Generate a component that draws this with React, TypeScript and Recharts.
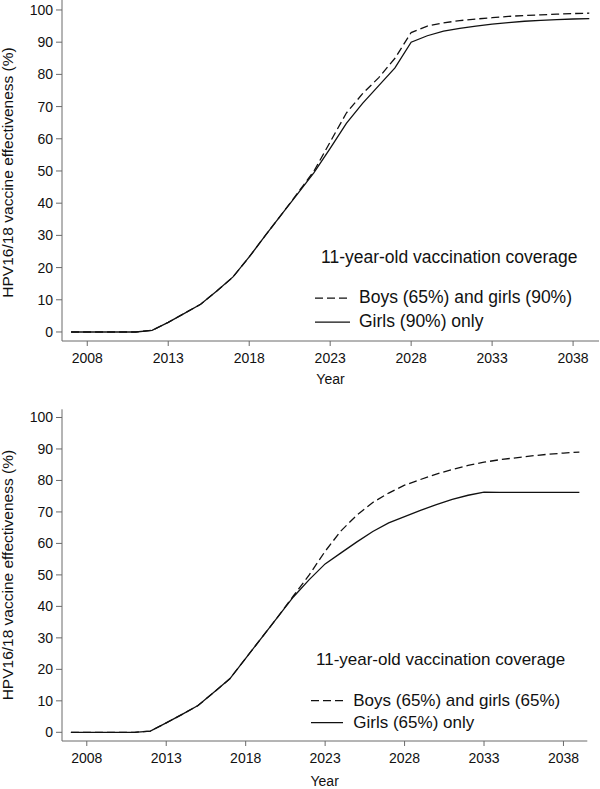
import { LineChart, Line, XAxis, YAxis, Legend } from "recharts";

const YEARS = [
  2007, 2008, 2009, 2010, 2011, 2012, 2013, 2014, 2015, 2016, 2017, 2018, 2019, 2020, 2021, 2022,
  2023, 2024, 2025, 2026, 2027, 2028, 2029, 2030, 2031, 2032, 2033, 2034, 2035, 2036, 2037, 2038,
  2039,
];

// top panel: girls 90%
const BOYS65_GIRLS90 = [
  0, 0, 0, 0, 0, 0.5, 3.0, 5.8, 8.6, 12.7, 17.1, 23.3, 30, 36.5, 43.2, 50, 59, 68, 74, 79, 85, 93,
  95, 96, 96.7, 97.2, 97.6, 98, 98.3, 98.5, 98.7, 98.9, 99.0,
];
const GIRLS90 = [
  0, 0, 0, 0, 0, 0.5, 3.0, 5.8, 8.6, 12.7, 17.1, 23.3, 30, 36.5, 43, 49.5, 57, 64.8, 71, 76.5, 82,
  90, 92, 93.4, 94.3, 95, 95.6, 96.1, 96.5, 96.8, 97.0, 97.2, 97.3,
];

// bottom panel: girls 65%
const BOYS65_GIRLS65 = [
  0, 0, 0, 0, 0, 0.4, 3.0, 5.7, 8.5, 12.7, 17, 23.5, 30, 36.5, 43.3, 50, 57.5, 64, 69, 73, 76,
  78.5, 80.3, 82, 83.5, 84.8, 85.8, 86.6, 87.2, 87.8, 88.3, 88.7, 89.0,
];
const GIRLS65 = [
  0, 0, 0, 0, 0, 0.4, 3.0, 5.7, 8.5, 12.7, 17, 23.5, 30, 36.5, 43, 48.5, 53.5, 57, 60.5, 63.8,
  66.5, 68.5, 70.5, 72.3, 74, 75.3, 76.3, 76.2, 76.2, 76.2, 76.2, 76.2, 76.2,
];

const X_TICKS = [2008, 2013, 2018, 2023, 2028, 2033, 2038];
const Y_TICKS = [0, 10, 20, 30, 40, 50, 60, 70, 80, 90, 100];

const LEGEND_TITLE = "11-year-old vaccination coverage";
const FONT = "'Liberation Sans', Arial, Helvetica, sans-serif";
const AXIS = "#6a6a6a";
const INK = "#111";

const topData = YEARS.map((year, i) => ({ year, both: BOYS65_GIRLS90[i], girls: GIRLS90[i] }));
const bottomData = YEARS.map((year, i) => ({ year, both: BOYS65_GIRLS65[i], girls: GIRLS65[i] }));

const DASH: Record<string, string | undefined> = { both: "8 4", girls: undefined };

interface LegendGeom {
  left: number;
  top: number;
  fontSize: number;
  titleIndent: number;
  titleGap: number;
  rowH: number;
  lineY: number;
  lineW: number;
  gap: number;
}

function makeLegend(g: LegendGeom) {
  return (props: any) => {
    const payload = props.payload || [];
    return (
      <div style={{ fontFamily: FONT, fontSize: g.fontSize, color: INK, whiteSpace: "nowrap" }}>
        <div style={{ lineHeight: "20px", marginLeft: g.titleIndent, marginBottom: g.titleGap }}>
          {LEGEND_TITLE}
        </div>
        {payload.map((p: any) => (
          <div
            key={p.dataKey}
            style={{ display: "flex", height: g.rowH, lineHeight: `${g.rowH}px` }}
          >
            <svg width={g.lineW} height={g.rowH} style={{ marginRight: g.gap }}>
              <line
                x1={0}
                x2={g.lineW}
                y1={g.lineY}
                y2={g.lineY}
                stroke={INK}
                strokeWidth={1.3}
                strokeDasharray={DASH[p.dataKey]}
              />
            </svg>
            <span>{p.value}</span>
          </div>
        ))}
      </div>
    );
  };
}

const yTitle = (shift: number) => (props: any) => {
  const vb = props.viewBox || {};
  const cy = vb.y + vb.height / 2 + shift;
  const bx = 12.7;
  return (
    <text
      x={bx}
      y={cy}
      transform={`rotate(-90, ${bx}, ${cy})`}
      textAnchor="middle"
      fontSize={15.5}
      fontFamily={FONT}
      fill={INK}
    >
      HPV16/18 vaccine effectiveness (%)
    </text>
  );
};

const xTitle = (dy: number) => (props: any) => {
  const vb = props.viewBox || {};
  return (
    <text
      x={vb.x + vb.width / 2}
      y={vb.y + dy}
      textAnchor="middle"
      fontSize={14}
      fontFamily={FONT}
      fill={INK}
    >
      Year
    </text>
  );
};

interface PanelProps {
  data: any[];
  girlsLabel: string;
  bothLabel: string;
  height: number;
  margin: { top: number; right: number; bottom: number; left: number };
  xDomain: [number, number];
  yDomain: [number, number];
  xAxisH: number;
  yShift: number;
  yearDy: number;
  legend: LegendGeom;
}

function Panel(p: PanelProps) {
  const tickStyle = { fontSize: 14, fill: INK, fontFamily: FONT };
  return (
    <LineChart width={600} height={p.height} data={p.data} margin={p.margin}>
      <XAxis
        dataKey="year"
        type="number"
        domain={p.xDomain}
        ticks={X_TICKS}
        allowDataOverflow
        height={p.xAxisH}
        tick={tickStyle}
        tickSize={5}
        tickMargin={7}
        stroke={AXIS}
        tickLine={{ stroke: AXIS }}
        label={xTitle(p.yearDy)}
      />
      <YAxis
        type="number"
        domain={p.yDomain}
        ticks={Y_TICKS}
        allowDataOverflow
        width={62}
        tick={tickStyle}
        tickSize={6}
        tickMargin={3}
        stroke={AXIS}
        tickLine={{ stroke: AXIS }}
        label={yTitle(p.yShift)}
      />
      <Legend
        layout="vertical"
        align="center"
        verticalAlign="middle"
        wrapperStyle={{ left: p.legend.left, top: p.legend.top, width: "auto", height: "auto" }}
        content={makeLegend(p.legend)}
      />
      <Line
        type="linear"
        dataKey="both"
        name={p.bothLabel}
        stroke={INK}
        strokeWidth={1.3}
        strokeDasharray="8 4"
        dot={false}
        activeDot={false}
        isAnimationActive={false}
      />
      <Line
        type="linear"
        dataKey="girls"
        name={p.girlsLabel}
        stroke={INK}
        strokeWidth={1.3}
        dot={false}
        activeDot={false}
        isAnimationActive={false}
      />
    </LineChart>
  );
}

export default function App() {
  return (
    <div
      style={{
        position: "absolute",
        left: 0,
        top: 0,
        width: 600,
        height: 789,
        background: "#fff",
        fontFamily: FONT,
        overflow: "hidden",
      }}
    >
      <div style={{ position: "absolute", left: 0, top: 0 }}>
        <Panel
          data={topData}
          bothLabel="Boys (65%) and girls (90%)"
          girlsLabel="Girls (90%) only"
          height={391}
          margin={{ top: 0, right: 1, bottom: 0, left: 0 }}
          xDomain={[2006.44, 2039.6]}
          yDomain={[-2.8, 103.1]}
          xAxisH={50}
          yShift={2}
          yearDy={43}
          legend={{
            left: 315,
            top: 246.6,
            fontSize: 17.5,
            titleIndent: 6,
            titleGap: 19.6,
            rowH: 23.5,
            lineY: 12.1,
            lineW: 35,
            gap: 9,
          }}
        />
      </div>
      <div style={{ position: "absolute", left: 0, top: 391 }}>
        <Panel
          data={bottomData}
          bothLabel="Boys (65%) and girls (65%)"
          girlsLabel="Girls (65%) only"
          height={398}
          margin={{ top: 18.3, right: 12.7, bottom: 0, left: 0 }}
          xDomain={[2006.44, 2039.5]}
          yDomain={[-2.76, 102.6]}
          xAxisH={48}
          yShift={0}
          yearDy={45}
          legend={{
            left: 310.7,
            top: 259.1,
            fontSize: 17,
            titleIndent: 5.3,
            titleGap: 20,
            rowH: 21.5,
            lineY: 10.6,
            lineW: 32.6,
            gap: 10,
          }}
        />
      </div>
    </div>
  );
}
